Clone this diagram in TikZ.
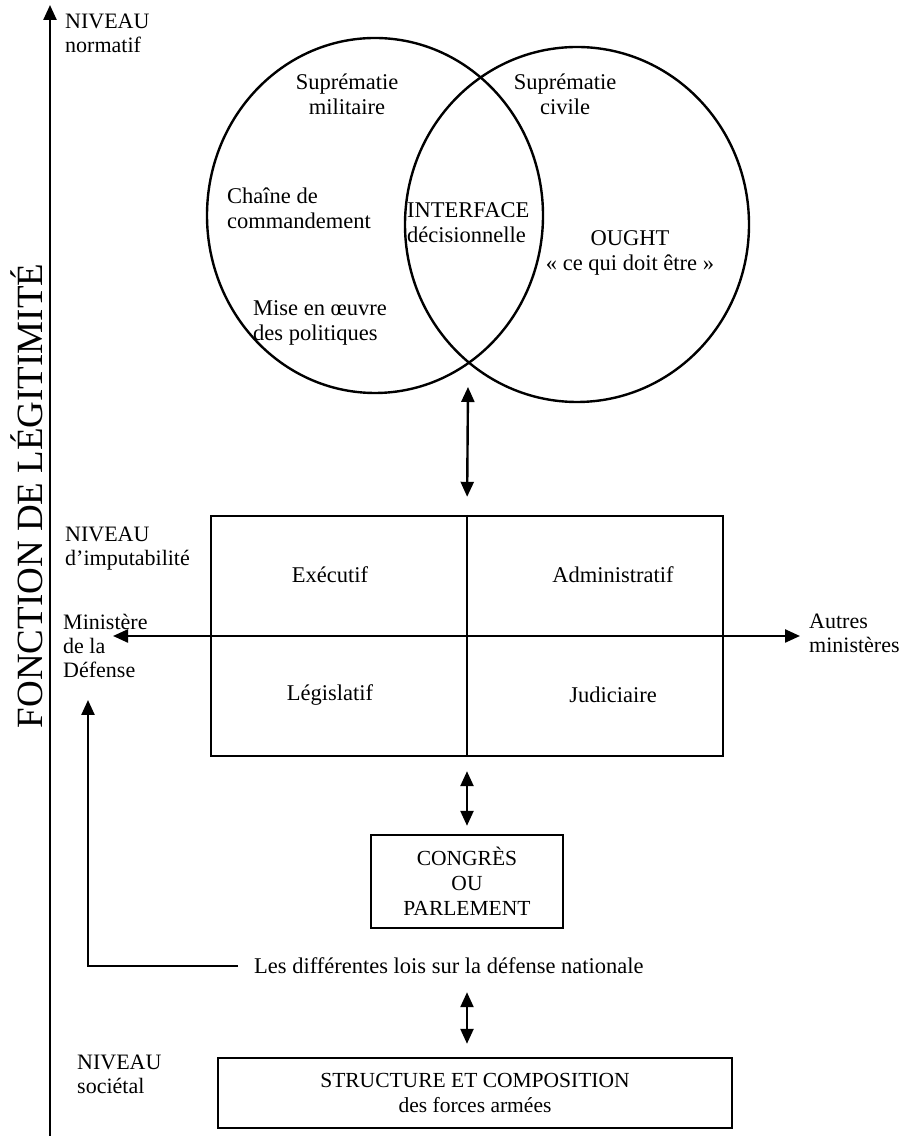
\documentclass[tikz,border=0pt]{standalone}
\usepackage{fontspec}
\setmainfont{Liberation Serif}
\usetikzlibrary{positioning, shapes.geometric, arrows.meta}

\begin{document}
\begin{tikzpicture}[x=1pt, y=1pt, line width=2.4pt,
     node distance = 3mm and 3mm,
                  >= {Triangle[length=15pt,width=13pt]},
        txt/.style = {inner sep=0pt, font=\fontsize{22.5}{25}\selectfont, align=#1},
      txt/.default = left,
        lvl/.style = {inner sep=0pt, font=\fontsize{22}{24}\selectfont,
                     align=left, anchor=west},
        box/.style = {rectangle, draw, inner sep=0pt, align=center,
                     font=\fontsize{21.5}{25}\selectfont},
       ring/.style = {ellipse, draw, inner sep=0pt, minimum height=355pt}
                        ]
\useasboundingbox (0,0) rectangle (919,1136);
\node (mil) [ring, minimum width=336pt] at (375,920.5) {};
\node (civ) [ring, minimum width=344pt] at (577,911.5) {};
\node (supmil) [txt=center] at (347,1041.5) {Suprématie\\militaire};
\node (supciv) [txt=center] at (565,1041.5) {Suprématie\\civile};
\node (chaine) [txt, anchor=west] at (226,927.5) {Chaîne de\\commandement};
\node (inter) [txt, anchor=west] at (406,913) {INTERFACE\\décisionnelle};
\node (ought) [txt=center] at (630,883.5) {OUGHT\\« ce qui doit être »};
\node (mise) [txt, anchor=west] at (252,813.5) {Mise en œuvre\\des politiques};
\coordinate (lens) at (468,749);
\node (gov) [box, minimum width=512pt, minimum height=240pt] at (467,500) {};
\node (exe) [txt] at (330,561) {Exécutif};
\node (adm) [txt] at (613,561) {Administratif};
\node (leg) [txt] at (330,441) {Législatif};
\node (jud) [txt] at (613,441) {Judiciaire};
\draw (gov.north) -- (gov.south);
\draw (gov.west) -- (gov.east);
\draw[<->, shorten >=18pt] (lens) -- (gov.north);
\coordinate (minarr) at (113,500);
\coordinate (autarr) at (800,500);
\draw[->] (gov.west) -- (minarr);
\draw[->] (gov.east) -- (autarr);
\node (normatif) [lvl] at (64,1102.5) {NIVEAU\\normatif};
\node (imput) [lvl] at (64,587.5) {NIVEAU\\d'imputabilité};
\node (minist) [lvl] at (62,490) {Ministère\\de la\\Défense};
\node (autres) [lvl] at (808,502.5) {Autres\\ministères};
\node (societal) [lvl] at (76,61.5) {NIVEAU\\sociétal};
\node (parl) [box, minimum width=192pt, minimum height=93pt] at (467,254.5) {CONGRÈS\\OU\\PARLEMENT};
\draw[<->, shorten <=14pt, shorten >=8pt] (gov.south) -- (parl.north);
\node (lois) [txt, anchor=west] at (253,170) {Les différentes lois sur la défense nationale};
\coordinate (defup) at (88,436);
\draw[->, shorten <=15pt] (lois.west) -| (defup);
\node (struct) [box, minimum width=514pt, minimum height=70pt] at (475,43) {STRUCTURE ET COMPOSITION\\des forces armées};
\draw[<->, shorten <=17pt, shorten >=13pt] (lois.south -| parl.south) -- (struct.north -| parl.south);
\coordinate (base) at (50,0);
\coordinate (top) at (50,1131);
\draw[->] (base) -- (top);
\node (fonction) [rotate=90, inner sep=0pt, font=\fontsize{37}{40}\selectfont] at (27,640) {FONCTION DE LÉGITIMITÉ};
\end{tikzpicture}
\end{document}
